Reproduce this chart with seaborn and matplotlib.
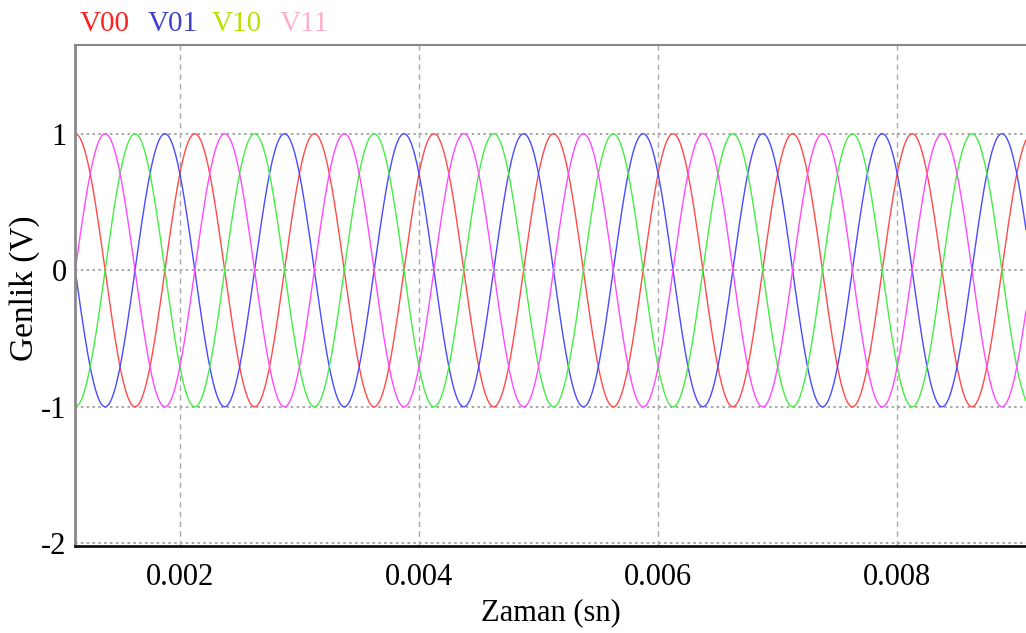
import numpy as np
import pandas as pd
import matplotlib
matplotlib.use("Agg")
import matplotlib.pyplot as plt
import seaborn as sns

# Values
series_names = ["V00", "V01", "V10", "V11"]
amplitudes = [1.0, 1.0, 1.0, 1.0]
frequency_hz = [1000.0, 1000.0, 1000.0, 1000.0]
peak_times = [0.000125, 0.000875, 0.000625, 0.000375]   # time of first crest (s)
line_colors = ["#ff4a4a", "#4a4aff", "#44ee44", "#ff4aff"]
legend_colors = ["#ff2020", "#4040d0", "#b8e000", "#ffb0c8"]
x_ticks = [0.002, 0.004, 0.006, 0.008]
x_tick_labels = ["0.002", "0.004", "0.006", "0.008"]
y_ticks = [1, 0, -1, -2]
y_tick_labels = ["1", "0", "-1", "-2"]
x_range = [0.001123, 0.009077]
y_range = [-2.02, 1.65]

sns.set_theme(style="white")
plt.rcParams["font.family"] = ["Liberation Serif", "DejaVu Serif"]

t = np.linspace(x_range[0], x_range[1], 6000)
frames = []
for name, a, f, tp in zip(series_names, amplitudes, frequency_hz, peak_times):
    frames.append(pd.DataFrame({"t": t,
                                "v": a * np.cos(2 * np.pi * f * (t - tp)),
                                "s": name}))
df = pd.concat(frames, ignore_index=True)

fig = plt.figure(figsize=(10.26, 6.33), dpi=100)
ax = fig.add_axes([75 / 1026, 1 - 546 / 633, 1 - 75 / 1026, (546 - 45) / 633])

sns.lineplot(data=df, x="t", y="v", hue="s", palette=line_colors,
             hue_order=series_names, linewidth=1.0, legend=False, ax=ax,
             estimator=None, sort=False)

ax.set_xlim(*x_range)
ax.set_ylim(*y_range)
ax.set_xticks(x_ticks)
ax.set_xticklabels(x_tick_labels, fontsize=22)
ax.set_yticks(y_ticks)
ax.set_yticklabels(y_tick_labels, fontsize=22)
ax.tick_params(axis="x", length=0, pad=12, colors="black")
ax.tick_params(axis="y", length=0, pad=6, colors="black")

for yv in y_ticks:
    ax.axhline(yv, color="#999999", lw=1.2, ls=(0, (1.5, 2.0)), zorder=0)
for xv in x_ticks:
    ax.axvline(xv, color="#aaaaaa", lw=1.0, ls=(0, (4, 3)), zorder=0)

ax.set_xlabel("Zaman (sn)", fontsize=22, labelpad=5, color="black")
ax.set_ylabel("Genlik (V)", fontsize=24, color="black")
ax.yaxis.set_label_coords(-0.037, 0.515)

for side in ["left", "top", "right", "bottom"]:
    ax.spines[side].set_visible(True)
ax.spines["left"].set_color("#888888")
ax.spines["left"].set_linewidth(2.0)
ax.spines["bottom"].set_color("#111111")
ax.spines["bottom"].set_linewidth(2.0)
ax.spines["top"].set_color("#888888")
ax.spines["top"].set_linewidth(1.5)
ax.spines["right"].set_visible(False)

legend_x = [80, 148, 212, 280]
for name, col, xp in zip(series_names, legend_colors, legend_x):
    fig.text(xp / 1026, 1 - 31 / 633, name, color=col, fontsize=21,
             ha="left", va="baseline")

fig.savefig("out.png", dpi=100)
